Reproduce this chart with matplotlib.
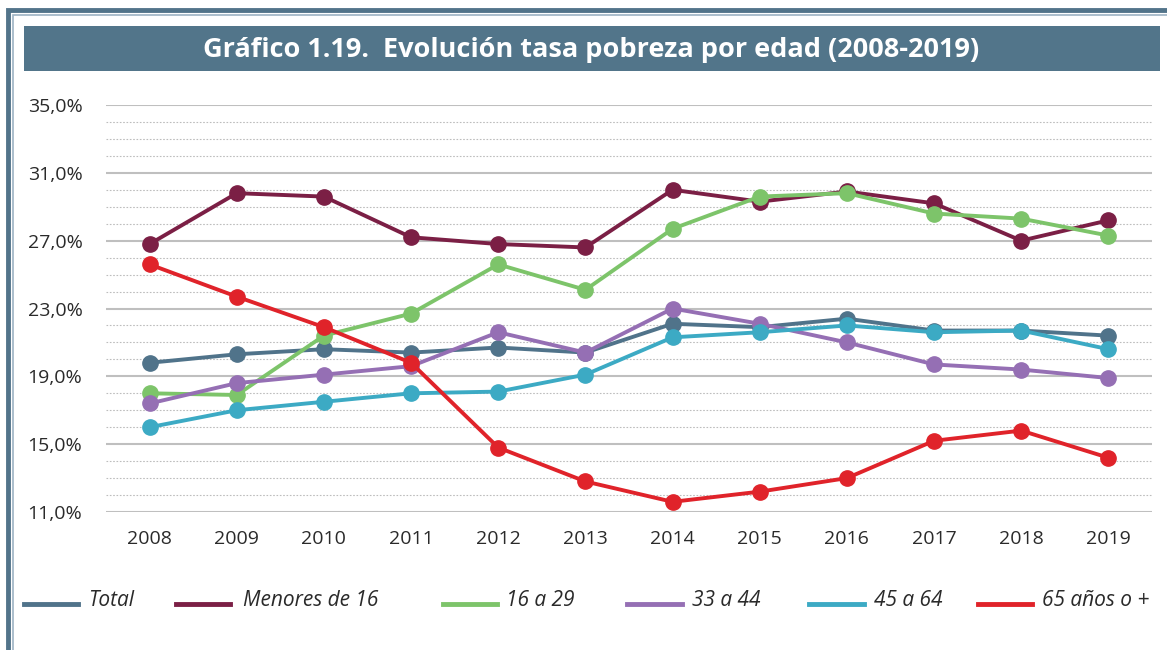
import matplotlib
matplotlib.use("Agg")
import matplotlib.pyplot as plt
from matplotlib.patches import Rectangle
from matplotlib.lines import Line2D
from matplotlib.ticker import MultipleLocator, FixedLocator

years = ["2008", "2009", "2010", "2011", "2012", "2013", "2014", "2015", "2016", "2017", "2018", "2019"]
total = [19.8, 20.3, 20.6, 20.4, 20.7, 20.4, 22.1, 21.9, 22.4, 21.7, 21.7, 21.4]
menores_16 = [26.8, 29.8, 29.6, 27.2, 26.8, 26.6, 30.0, 29.3, 29.9, 29.2, 27.0, 28.2]
e16_29 = [18.0, 17.9, 21.4, 22.7, 25.6, 24.1, 27.7, 29.6, 29.8, 28.6, 28.3, 27.3]
e33_44 = [17.4, 18.6, 19.1, 19.6, 21.6, 20.4, 23.0, 22.1, 21.0, 19.7, 19.4, 18.9]
e45_64 = [16.0, 17.0, 17.5, 18.0, 18.1, 19.1, 21.3, 21.6, 22.0, 21.6, 21.7, 20.6]
e65 = [25.6, 23.7, 21.9, 19.8, 14.8, 12.8, 11.6, 12.2, 13.0, 15.2, 15.8, 14.2]

labels = ["Total", "Menores de 16", "16 a 29", "33 a 44", "45 a 64", "65 años o +"]
series = [total, menores_16, e16_29, e33_44, e45_64, e65]
colors = ["#50738A", "#7B1F45", "#7DC46A", "#956FB4", "#3CAAC4", "#E0232A"]
y_ticks = [11, 15, 19, 23, 27, 31, 35]

W, H = 1167, 650
fig = plt.figure(figsize=(W / 100, H / 100), dpi=100)
FONT = ["Open Sans", "DejaVu Sans"]

def fx(px):
    return px / W

def fy(py):
    return 1 - py / H

# outer frame
fig.add_artist(Rectangle((fx(8), fy(700)), fx(1300), fy(10) - fy(700), transform=fig.transFigure,
                         fill=False, edgecolor="#52748A", linewidth=3.5))
fig.add_artist(Rectangle((fx(13), fy(700)), fx(1300), fy(15) - fy(700), transform=fig.transFigure,
                         fill=False, edgecolor="#9DB3C3", linewidth=1.2))
# title banner
fig.add_artist(Rectangle((fx(24), fy(71)), fx(1160 - 24), fy(26) - fy(71), transform=fig.transFigure,
                         facecolor="#52758A", edgecolor="none"))
fig.text(fx(591), fy(50), "Gráfico 1.19.  Evolución tasa pobreza por edad (2008-2019)",
         color="white", fontsize=19.5, fontweight="bold", ha="center", va="center", family=FONT)

ax = fig.add_axes([fx(106), fy(512), fx(1152 - 106), fy(105) - fy(512)])
x = list(range(len(years)))
for s, c, lab in zip(series, colors, labels):
    ax.plot(x, s, color=c, linewidth=2.8, marker="o", markersize=11, label=lab, solid_capstyle="round")

ax.set_xlim(-0.5, 11.5)
ax.set_ylim(11, 35)
ax.set_xticks(x)
ax.set_xticklabels(years)
ax.yaxis.set_major_locator(FixedLocator(y_ticks))
ax.set_yticklabels([f"{v:.1f}%".replace(".", ",") for v in y_ticks])
ax.yaxis.set_minor_locator(MultipleLocator(1))
ax.grid(axis="y", which="major", color="#BFBFBF", linewidth=1.5)
ax.grid(axis="y", which="minor", color="#BDBDBD", linewidth=0.8, linestyle=(0, (1.5, 1.5)))
ax.set_axisbelow(True)
for sp in ax.spines.values():
    sp.set_visible(False)
ax.tick_params(axis="both", which="both", length=0)
ax.tick_params(axis="y", pad=17)
ax.tick_params(axis="x", pad=13)
for t in ax.get_xticklabels() + ax.get_yticklabels():
    t.set_fontsize(14)
    t.set_color("#2A2A2A")
    t.set_family(FONT)

# legend
leg_handles = [(24, 78, 88), (176, 230, 243), (443, 497, 506), (627, 682, 692), (809, 864, 874), (978, 1032, 1042)]
for (x0, x1, tx), c, lab in zip(leg_handles, colors, labels):
    fig.add_artist(Line2D([fx(x0), fx(x1)], [fy(604), fy(604)], transform=fig.transFigure,
                          color=c, linewidth=3.5))
    fig.text(fx(tx), fy(601), lab, fontsize=15, style="italic",
             color="#2A2A2A", ha="left", va="center", family=FONT)

fig.savefig("out.png", dpi=100, facecolor="white")
